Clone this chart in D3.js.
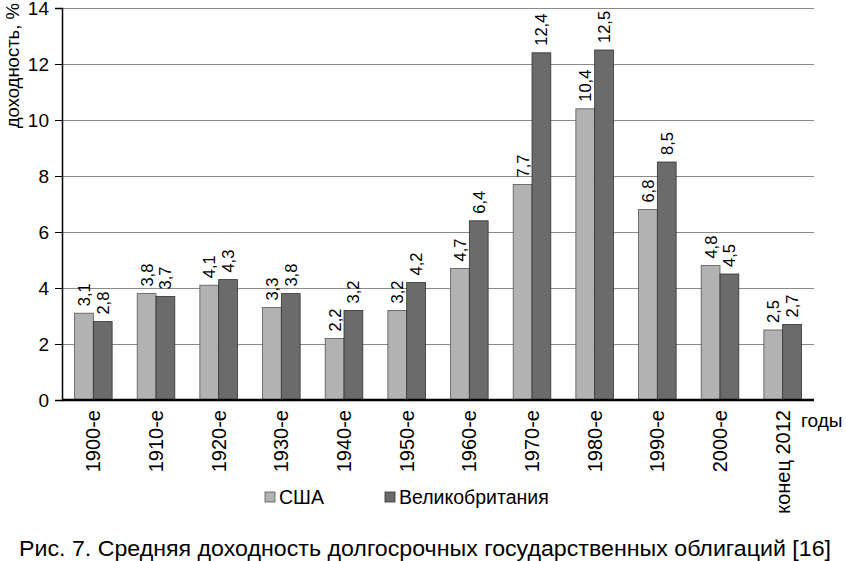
<!DOCTYPE html>
<html>
<head>
<meta charset="utf-8">
<script src="https://cdn.jsdelivr.net/npm/d3@7"></script>
<style>
  html, body { margin: 0; padding: 0; background: #fff; }
  svg { display: block; font-family: "Liberation Sans", Arial, sans-serif; }
</style>
</head>
<body>
<svg id="chart" width="846" height="561"></svg>
<script>
const categories = ["1900-е", "1910-е", "1920-е", "1930-е", "1940-е", "1950-е", "1960-е", "1970-е", "1980-е", "1990-е", "2000-е", "конец 2012"];
const seriesNames = ["США", "Великобритания"];
const usa = [3.1, 3.8, 4.1, 3.3, 2.2, 3.2, 4.7, 7.7, 10.4, 6.8, 4.8, 2.5];
const uk  = [2.8, 3.7, 4.3, 3.8, 3.2, 4.2, 6.4, 12.4, 12.5, 8.5, 4.5, 2.7];
const yTicks = [0, 2, 4, 6, 8, 10, 12, 14];
const yLabel = "доходность, %";
const xLabel = "годы";
const caption = "Рис. 7. Средняя доходность долгосрочных государственных облигаций [16]";

(function () {
const colors = ["#b2b2b2", "#6b6b6b"];
const strokes = ["#555", "#333"];

const svg = d3.select("#chart");
const pL = 62, pR = 814, pT = 8, pB = 400;

const x = d3.scaleBand().domain(categories).range([pL, pR]).paddingInner(0.4).paddingOuter(0.2);
const x1 = d3.scaleBand().domain(seriesNames).range([0, x.bandwidth()]);
const y = d3.scaleLinear().domain([0, 14]).range([pB, pT]);

// gridlines
svg.append("g").selectAll("line").data(yTicks.filter(d => d > 0)).join("line")
  .attr("x1", pL).attr("x2", pR)
  .attr("y1", d => y(d)).attr("y2", d => y(d))
  .attr("stroke", "#8a8a8a").attr("stroke-width", 1).attr("shape-rendering", "crispEdges");

// y axis
const yAxis = d3.axisLeft(y).tickValues(yTicks).tickSize(7).tickPadding(6).tickFormat(d3.format("d"));
const gy = svg.append("g").attr("transform", `translate(${pL},0)`).call(yAxis);
gy.select(".domain").attr("stroke", "#000").attr("stroke-width", 1.5);
gy.selectAll(".tick line").attr("stroke", "#000");
gy.selectAll(".tick text").attr("font-size", 19).attr("fill", "#000").attr("font-family", "Liberation Sans, Arial, sans-serif");

// bars
const series = [usa, uk];
const groups = svg.append("g").selectAll("g").data(categories).join("g")
  .attr("transform", d => `translate(${x(d)},0)`);
groups.each(function(cat, i) {
  const g = d3.select(this);
  seriesNames.forEach((s, si) => {
    const v = series[si][i];
    g.append("rect")
      .attr("x", x1(s)).attr("width", x1.bandwidth())
      .attr("y", y(v)).attr("height", y(0) - y(v))
      .attr("fill", colors[si]).attr("stroke", strokes[si]).attr("stroke-width", 0.8);
    const cx = x1(s) + x1.bandwidth() / 2;
    g.append("text")
      .attr("transform", `translate(${cx + 6},${y(v) - 7}) rotate(-90)`)
      .attr("font-size", 16.5).attr("fill", "#000")
      .attr("text-anchor", "start")
      .text(d3.format(".1f")(v).replace(".", ","));
  });
});

// x axis line
svg.append("line").attr("x1", pL).attr("x2", pR).attr("y1", pB).attr("y2", pB)
  .attr("stroke", "#000").attr("stroke-width", 2.5);

// x tick labels
svg.append("g").selectAll("text").data(categories).join("text")
  .attr("transform", d => `translate(${x(d) + x.bandwidth() / 2 + 7},${pB + 10}) rotate(-90)`)
  .attr("text-anchor", "end").attr("font-size", 20).attr("fill", "#000")
  .text(d => d);

// axis titles
svg.append("text").attr("transform", `translate(19,3) rotate(-90)`)
  .attr("text-anchor", "end").attr("font-size", 18.5).attr("fill", "#000").text(yLabel);
svg.append("text").attr("x", 801).attr("y", 427).attr("font-size", 19).attr("fill", "#000").text(xLabel);

// legend
const legend = svg.append("g").selectAll("g").data(seriesNames).join("g")
  .attr("transform", (d, i) => `translate(${[265, 385][i]},492)`);
legend.append("rect").attr("width", 10).attr("height", 10)
  .attr("fill", (d, i) => colors[i]).attr("stroke", (d, i) => strokes[i]).attr("stroke-width", 0.8);
legend.append("text").attr("x", 14).attr("y", 12).attr("font-size", 19.5).attr("fill", "#000").text(d => d);

// caption
svg.append("text").attr("x", 425).attr("y", 556).attr("text-anchor", "middle")
  .attr("font-size", 21.5).attr("textLength", 812).attr("lengthAdjust", "spacingAndGlyphs")
  .attr("fill", "#000").text(caption);
})();
</script>
</body>
</html>
